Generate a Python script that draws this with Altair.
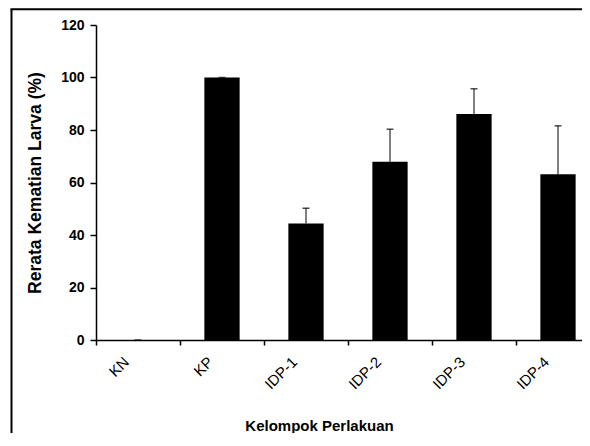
import altair as alt
import pandas as pd

categories = ["KN", "KP", "IDP-1", "IDP-2", "IDP-3", "IDP-4"]
means = [0, 100, 44.4, 67.9, 86.1, 63.1]
upper = [0, 100, 50.2, 80.3, 95.7, 81.6]
y_ticks = [0, 20, 40, 60, 80, 100, 120]

df = pd.DataFrame({"group": categories, "mean": means, "upper": upper})

FONT = "Liberation Sans"

x_axis = alt.Axis(
    title="Kelompok Perlakuan",
    labelAngle=315,
    labelAlign="right",
    labelBaseline="middle",
    labelOffset=-12,
    labelPadding=14,
    labelFontSize=15,
    labelFont=FONT,
    labelOverlap=False,
    tickBand="extent",
    tickSize=5,
    tickWidth=1.5,
    domainWidth=1.5,
    titleX=223,
    titleY=90,
    titleAlign="center",
    titleBaseline="alphabetic",
    titleFontSize=15,
    titleFontWeight="bold",
    titleFont=FONT,
)
x_enc = alt.X(
    "group:N",
    sort=categories,
    scale=alt.Scale(range=[0, 504], paddingInner=0, paddingOuter=0),
    axis=x_axis,
)

y_scale = alt.Scale(domain=[0, 120], nice=False)
y_axis = alt.Axis(
    title="Rerata Kematian Larva (%)",
    values=y_ticks,
    grid=False,
    tickSize=6,
    tickWidth=1.5,
    domainWidth=1.5,
    labelPadding=6,
    labelFontSize=14,
    labelFontWeight="bold",
    labelFont=FONT,
    titleX=-61,
    titleY=157.5,
    titleAngle=-90,
    titleAlign="center",
    titleBaseline="middle",
    titleFontSize=17.5,
    titleFontWeight="bold",
    titleFont=FONT,
)

frame_df = pd.DataFrame({"a": [0]})
frame_left = alt.Chart(frame_df).mark_rule(color="black", strokeWidth=2).encode(
    x=alt.value(-84.5), y=alt.value(-15.7), y2=alt.value(420)
)
frame_top = alt.Chart(frame_df).mark_rule(color="black", strokeWidth=2).encode(
    x=alt.value(-85.5), x2=alt.value(486), y=alt.value(-15.7)
)

bars = alt.Chart(df).mark_bar(color="black", width=alt.RelativeBandSize(0.42)).encode(
    x=x_enc, y=alt.Y("mean:Q", scale=y_scale, axis=y_axis)
)

rules = alt.Chart(df).mark_rule(color="black", strokeWidth=1).encode(
    x=x_enc,
    y=alt.Y("mean:Q", scale=y_scale, axis=y_axis),
    y2="upper:Q",
)

caps = alt.Chart(df).mark_tick(
    orient="horizontal", size=7, thickness=1.5, color="black"
).encode(
    x=x_enc,
    y=alt.Y("upper:Q", scale=y_scale, axis=y_axis),
)

chart = alt.layer(frame_left, frame_top, bars, rules, caps).properties(
    width=486,
    height=315,
    autosize=alt.AutoSizeParams(type="none"),
    padding={"left": 88, "top": 17, "right": 0, "bottom": 93},
).configure_view(strokeWidth=0, strokeOpacity=0).configure_axis(
    domainColor="black", tickColor="black", labelColor="black", titleColor="black"
)

chart.save("out.html", embed_options={"renderer": "svg", "actions": False})
